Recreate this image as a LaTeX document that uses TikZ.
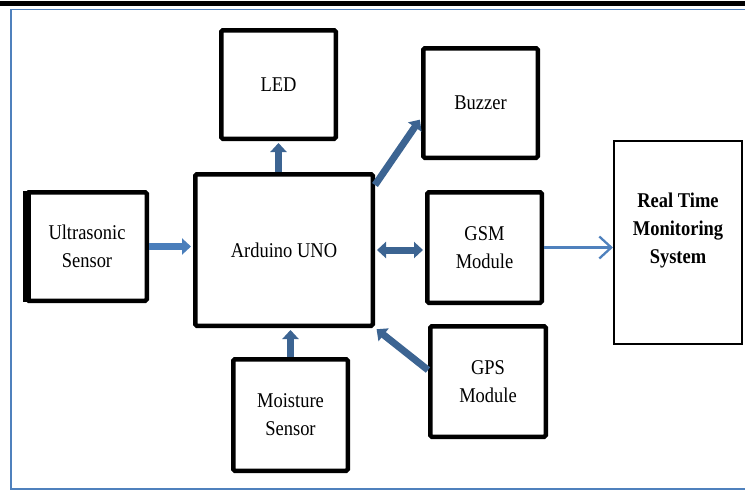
\documentclass[tikz,border=0pt]{standalone}
\usepackage{fontspec}
\setmainfont{Liberation Serif}[FakeStretch=0.88]
\usetikzlibrary{arrows.meta}
\definecolor{framec}{HTML}{4F81BD}
\definecolor{arrowd}{HTML}{3C6492}
\definecolor{arrowl}{HTML}{4A7EBB}
\tikzset{
  blk/.style={draw=black, line width=4.5pt, rounded corners=1.5pt, align=center,
    font=\fontsize{21}{28}\selectfont, inner sep=0pt},
  thick arrow/.style={draw=arrowd, line width=7pt,
    -{Triangle[width=16pt,length=9pt]}, shorten >=2pt},
  thin arrow/.style={draw=framec, line width=2.3pt,
    -{Straight Barb[width=22pt,length=12pt,line width=2.3pt]}}
}
\begin{document}
\begin{tikzpicture}[x=1pt,y=-1pt]
\useasboundingbox (0,0) rectangle (745,491);
% page decoration
\fill[black] (0,1) rectangle (745,6);
\draw[framec, line width=1.6pt] (760,9.5) -- (11,9.5) -- (11,489) -- (760,489);

% blocks
\node[blk, minimum width=114.5pt, minimum height=108.5pt] (led)   at (278.5,84.5) {LED};
\node[blk, minimum width=114.5pt, minimum height=109.5pt] (buzz)  at (480.5,103)  {Buzzer};
\node[blk, minimum width=119.5pt, minimum height=108.5pt] (us)    at (87,246.5)   {Ultrasonic\\Sensor};
\fill[black] (us.north west) ++(-2.25pt,-1pt) rectangle ([xshift=6pt,yshift=1pt]us.south west);
\node[blk, minimum width=177.5pt, minimum height=151.5pt] (ard)   at (284,250)    {Arduino UNO};
\node[blk, minimum width=114.5pt, minimum height=110.5pt] (gsm)   at (484.5,247.5){GSM\\Module};
\node[blk, minimum width=115.5pt, minimum height=110.5pt] (gps)   at (488,381.5)  {GPS\\Module};
\node[blk, minimum width=114.5pt, minimum height=111.5pt] (moist) at (290.5,415)  {Moisture\\Sensor};
\node[draw=black, line width=2pt, minimum width=128pt, minimum height=203pt] (rt) at (678,242.5) {};
\node[align=center, font=\fontsize{21}{28}\selectfont\bfseries, inner sep=0pt] (rtt) at (678,230) {Real Time\\Monitoring\\System};

% connectors
\draw[thick arrow, draw=arrowl] (us.east) -- (ard.west |- us.east);
\draw[thick arrow] (led.south |- ard.north) -- (led.south);
\draw[thick arrow] ([yshift=-13pt]ard.north east) -- ([yshift=-15pt]buzz.west);
\draw[thick arrow, {Triangle[width=16pt,length=9pt]}-{Triangle[width=16pt,length=9pt]}, shorten <=2pt]
  (ard.east) -- (ard.east -| gsm.west);
\draw[thick arrow] ([yshift=11.5pt]gps.west) -- (ard.south east);
\draw[thick arrow] (moist.north) -- (moist.north |- ard.south);
\draw[thin arrow] (gsm.east) -- (gsm.east -| rt.west);
\end{tikzpicture}
\end{document}
